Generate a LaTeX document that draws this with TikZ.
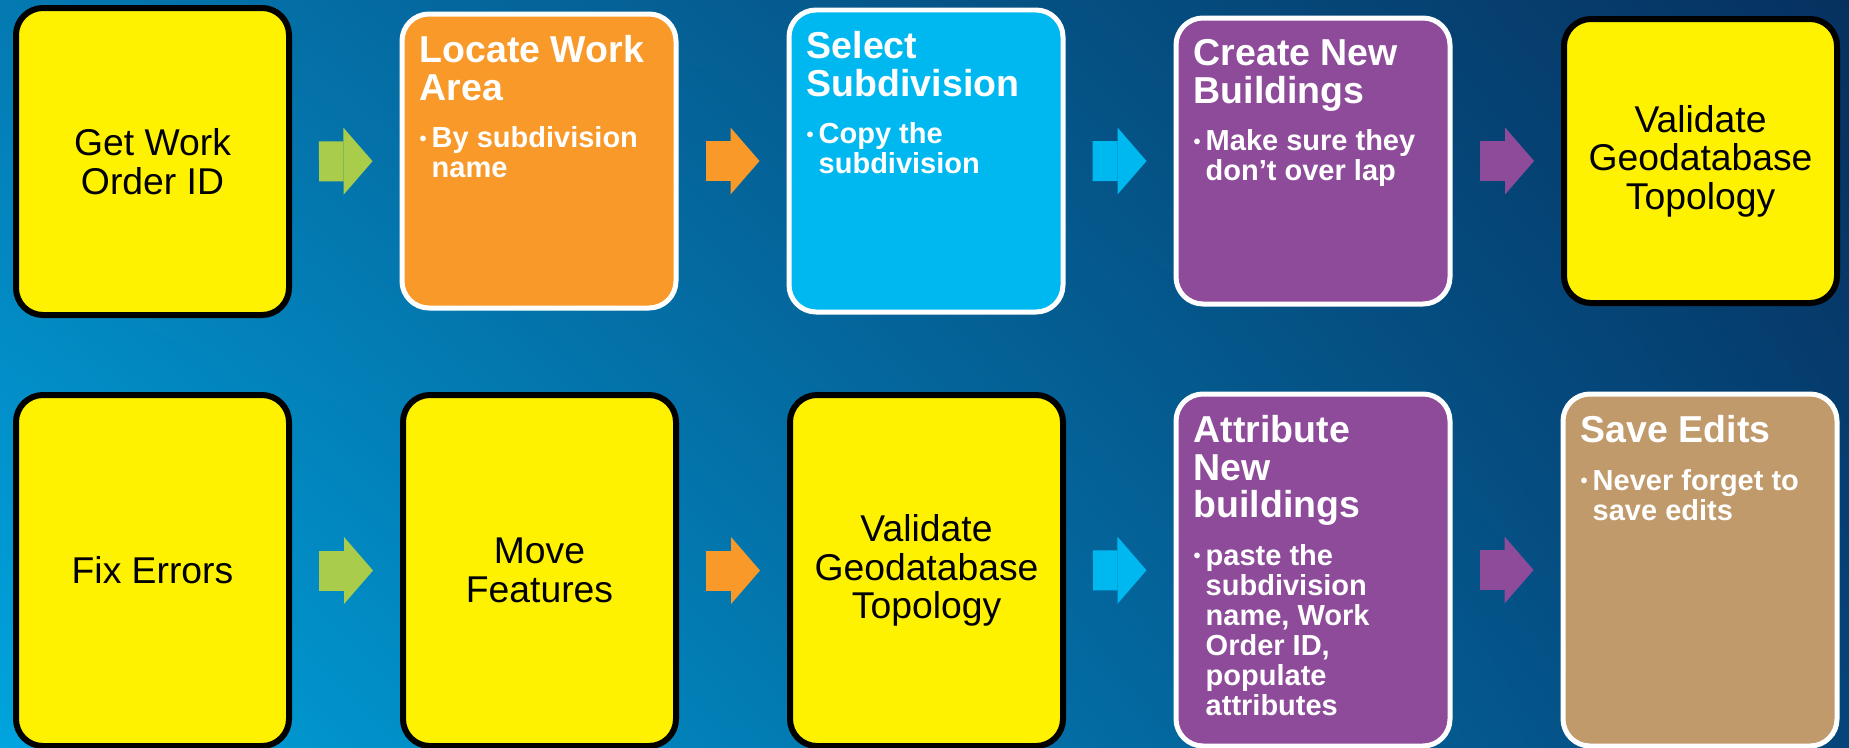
\documentclass[tikz,border=0pt]{standalone}
\usepackage{fontspec}
\setmainfont{Liberation Sans}
\usepackage{tikz}
\usetikzlibrary{
    arrows.meta,
    shadings,
    positioning
}
\definecolor{bgul}{HTML}{0479B2}
\definecolor{bgll}{HTML}{00A4DE}
\definecolor{bgur}{HTML}{06315F}
\definecolor{bglr}{HTML}{05457A}
\definecolor{cardorange}{HTML}{F8992A}
\definecolor{cardcyan}{HTML}{00B8F0}
\definecolor{cardpurple}{HTML}{8E4B9A}
\definecolor{cardtan}{HTML}{C09A6B}
\definecolor{arrgreen}{HTML}{A9CD4B}
\hyphenpenalty=10000
\exhyphenpenalty=10000
\newcommand{\stepitem}[1]{\par\vspace{1.75mm}{\fontsize{2.9mm}{3mm}\selectfont\hangindent=1.2mm\hangafter=1\noindent\makebox[1.2mm][l]{\raisebox{0.28mm}{\fontsize{2mm}{2mm}\selectfont •}}#1\par}}

\begin{document}
\begin{tikzpicture}[x=0.1mm, y=-0.1mm,
    card/.style={rectangle, rounded corners=2.7mm, inner sep=0pt, anchor=north west,
        minimum width=27.4mm, line width=0.5mm, draw=white, fill=#1},
    plaincard/.style={rectangle, rounded corners=2.7mm, inner sep=0pt, anchor=north west,
        minimum width=27.3mm, line width=0.6mm, draw=black, fill=yellow, align=center,
        font=\fontsize{3.73mm}{3.85mm}\selectfont},
    cardtext/.style={anchor=north west, inner sep=0pt, text width=23.5mm, align=flush left,
        text=white, font=\fontsize{3.75mm}{3.75mm}\selectfont\bfseries},
    flow/.style={line width=4mm, draw=#1, -{Triangle[length=2.9mm, width=6.7mm, line width=0pt]},
        shorten <=2.7mm, shorten >=2.7mm}
]
\useasboundingbox (0,0) rectangle (1849,747);
\shade[upper left=bgul, upper right=bgur, lower left=bgll, lower right=bglr] (0,0) rectangle (1849,747);

\node[plaincard, minimum height=30.7mm] (getid) at (13,5) {Get Work\\Order ID};
\node[card=cardorange, minimum height=29.4mm] (locate) at (399.5,11.5) {};
\node[card=cardcyan, minimum height=30.2mm] (select) at (786.5,7.5) {};
\node[card=cardpurple, minimum height=28.6mm] (create) at (1173.5,15.5) {};
\node[plaincard, minimum height=28.4mm] (validatetop) at (1561,16) {Validate\\Geodatabase\\Topology};

\node[plaincard, minimum height=35.1mm] (fixerr) at (13,392) {Fix Errors};
\node[plaincard, minimum height=35.1mm] (move) at (400,392) {Move\\Features};
\node[plaincard, minimum height=35.1mm] (validatebot) at (787,392) {Validate\\Geodatabase\\Topology};
\node[card=cardpurple, minimum height=35.2mm] (attribute) at (1173.5,391.5) {};
\node[card=cardtan, minimum height=35.2mm] (save) at (1560.5,391.5) {};

\node[cardtext] (locatetxt) at ([xshift=1.95mm, yshift=-2.35mm]locate.north west)
    {Locate Work Area\stepitem{By subdivision name}};
\node[cardtext] (selecttxt) at ([xshift=1.95mm, yshift=-2.35mm]select.north west)
    {Select Subdivision\stepitem{Copy the subdivision}};
\node[cardtext] (createtxt) at ([xshift=1.95mm, yshift=-2.35mm]create.north west)
    {Create New Buildings\stepitem{Make sure they don’t over lap}};
\node[cardtext] (attributetxt) at ([xshift=1.95mm, yshift=-2.35mm]attribute.north west)
    {Attribute New buildings\stepitem{paste the subdivision name, Work Order ID, populate attributes}};
\node[cardtext] (savetxt) at ([xshift=1.95mm, yshift=-2.35mm]save.north west)
    {Save Edits\stepitem{Never forget to save edits}};

\draw[flow=arrgreen] (getid) -- (locate);
\draw[flow=cardorange] (locate) -- (select);
\draw[flow=cardcyan] (select) -- (create);
\draw[flow=cardpurple] (create) -- (validatetop);
\draw[flow=arrgreen] (fixerr) -- (move);
\draw[flow=cardorange] (move) -- (validatebot);
\draw[flow=cardcyan] (validatebot) -- (attribute);
\draw[flow=cardpurple] (attribute) -- (save);
\end{tikzpicture}
\end{document}
